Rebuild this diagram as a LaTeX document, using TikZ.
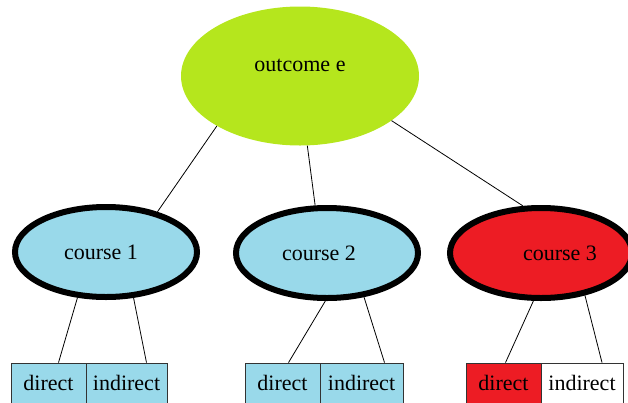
\documentclass[tikz,border=0pt]{standalone}
\usepackage{fontspec}
\setmainfont{Liberation Serif}
\usetikzlibrary{shapes.geometric}
\definecolor{paintlime}{RGB}{181,230,29}
\definecolor{paintblue}{RGB}{153,217,234}
\definecolor{paintred}{RGB}{237,28,36}
\begin{document}
\begin{tikzpicture}[x=1pt, y=-1pt]
        \tikzstyle{goal}=[ellipse, fill=paintlime, inner sep=0pt, minimum width=238pt, minimum height=139pt, text depth=22pt]
        \tikzstyle{course}=[ellipse, draw=black, line width=6pt, fill=paintblue, inner sep=0pt, minimum width=182pt, minimum height=90pt]
        \tikzstyle{cell}=[rectangle, draw=black!80, line width=0.8pt, fill=paintblue, inner sep=0pt, minimum height=40pt]
        \tikzstyle{link}=[draw=black, line width=0.8pt]
        \useasboundingbox (0,0) rectangle (628,402);
        \fontsize{22}{26}\selectfont
        \node[goal] (O) at (300,76) {outcome e};
        \node[course] (C1) at (106,252) {course 1\hspace*{10pt}};
        \node[course] (C2) at (327,253) {course 2\hspace*{16pt}};
        \node[course, fill=paintred] (C3) at (541,253) {\hspace*{38pt}course 3};
        \node[cell, minimum width=75pt] (D1) at (48.5,383) {direct};
        \node[cell, minimum width=81pt] (I1) at (126.5,383) {indirect};
        \node[cell, minimum width=75pt] (D2) at (282.5,383) {direct};
        \node[cell, minimum width=83pt] (I2) at (361.5,383) {indirect};
        \node[cell, minimum width=75pt, fill=paintred] (D3) at (503.5,383) {direct};
        \node[cell, minimum width=82pt, fill=white] (I3) at (582,383) {indirect};
        \path[link] (O.211) -- (C1.38);
        \path[link] (O.276) -- (C2.104);
        \path[link] (O.334) -- (C3.111);
        \path[link] (C1.238) -- ([xshift=10pt]D1.north);
        \path[link] (C1.301) -- ([xshift=20pt]I1.north);
        \path[link] (C2.268) -- ([xshift=6pt]D2.north);
        \path[link] (C2.310) -- ([xshift=23pt]I2.north);
        \path[link] (C3.261) -- ([xshift=2pt]D3.north);
        \path[link] (C3.316) -- ([xshift=20pt]I3.north);
    \end{tikzpicture}
\end{document}
